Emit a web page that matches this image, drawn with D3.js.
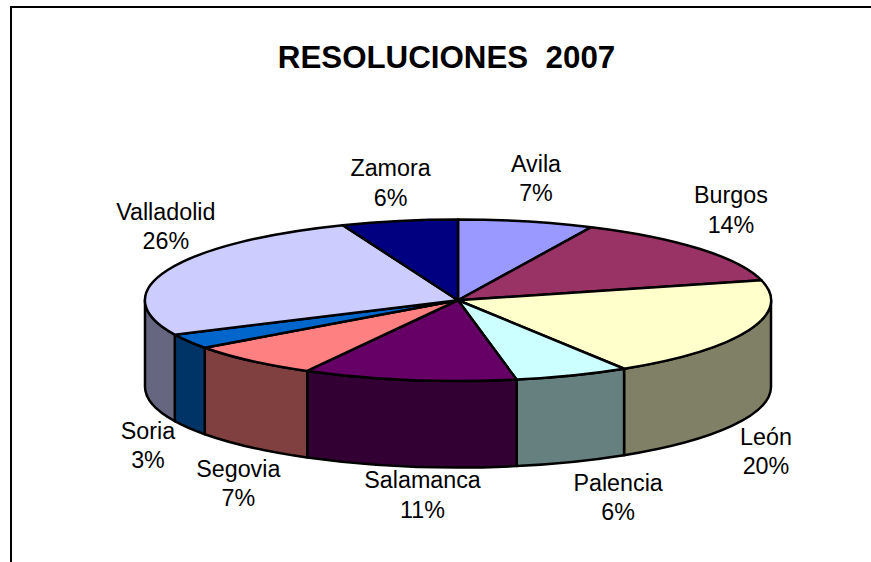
<!DOCTYPE html>
<html>
<head>
<meta charset="utf-8">
<script src="https://cdn.jsdelivr.net/npm/d3@7/dist/d3.min.js"></script>
<style>
  html, body { margin: 0; padding: 0; background: #fff; overflow: hidden; }
  text { font-family: "Liberation Sans", Arial, sans-serif; fill: #000; }
  .slice { stroke: #000; stroke-width: 2.5; stroke-linejoin: round; vector-effect: non-scaling-stroke; }
</style>
</head>
<body>
<div id="chart"></div>
<script>
const categories = ["Avila", "Burgos", "León", "Palencia", "Salamanca", "Segovia", "Soria", "Valladolid", "Zamora"];
const percents = [7, 14, 20.1, 5.9, 11, 7, 3, 26, 6];
const colors = ["#9999FF", "#993366", "#FFFFCC", "#CCFFFF", "#660066", "#FF8080", "#0066CC", "#CCCCFF", "#000080"];
const title = "RESOLUCIONES  2007";

// nudges of each label away from its slice, by hand
const labelNudge = [[9.7, -20.2], [31.8, -16.1], [17.3, 143.8], [45.8, 144.6], [13.5, 137.7], [-12.7, 145.2], [-40.6, 126.9], [-1.2, -21.2], [-8.8, -15.2]];

const width = 871, height = 562;
const depth = 86.5;

const svg = d3.select("#chart").append("svg")
  .attr("width", width)
  .attr("height", height)
  .style("display", "block");

// chart frame: only top and left edges fall inside the picture
svg.append("path")
  .attr("d", `M11,${height} V7 H${width}`)
  .attr("fill", "none")
  .attr("stroke", "#000")
  .attr("stroke-width", 2);

svg.append("text")
  .attr("x", 446.5)
  .attr("y", 68)
  .attr("text-anchor", "middle")
  .attr("font-size", 31.3)
  .attr("font-weight", "bold")
  .style("white-space", "pre")
  .text(title);

// unit circle -> flattened ellipse on the page
const x = d3.scaleLinear().domain([-1, 1]).range([145, 771]);
const y = d3.scaleLinear().domain([-1, 1]).range([219.5, 381]);
const rx = (x(1) - x(-1)) / 2, ry = (y(1) - y(-1)) / 2;

const pie = d3.pie().sort(null).value(d => d)(percents);

const px = a => x(Math.sin(a));
const py = a => y(-Math.cos(a));

// rim, only the front half of the disc shows
const rim = svg.append("g");
pie.forEach((d, i) => {
  const a0 = Math.max(d.startAngle, Math.PI / 2);
  const a1 = Math.min(d.endAngle, Math.PI * 1.5);
  if (a1 <= a0) return;
  const c = d3.rgb(colors[i]);
  rim.append("path")
    .attr("class", "slice")
    .attr("fill", d3.rgb(c.r / 2, c.g / 2, c.b / 2))
    .attr("d", `M${px(a0)},${py(a0)} A${rx},${ry} 0 0 1 ${px(a1)},${py(a1)}` +
      ` L${px(a1)},${py(a1) + depth} A${rx},${ry} 0 0 0 ${px(a0)},${py(a0) + depth} Z`);
});

// top face, unit arcs stretched to the ellipse
const arc = d3.arc().innerRadius(0).outerRadius(1);
svg.append("g")
  .attr("transform", `translate(${x(0)},${y(0)}) scale(${rx},${ry})`)
  .selectAll("path")
  .data(pie)
  .enter()
  .append("path")
  .attr("class", "slice")
  .attr("fill", (d, i) => colors[i])
  .attr("d", arc);

const label = svg.append("g")
  .selectAll("text")
  .data(pie)
  .enter()
  .append("text")
  .attr("text-anchor", "middle")
  .attr("font-size", 23.3)
  .attr("transform", (d, i) => {
    const mid = (d.startAngle + d.endAngle) / 2;
    return `translate(${px(mid) + labelNudge[i][0]},${py(mid) + labelNudge[i][1]})`;
  });

label.append("tspan").attr("x", 0).attr("y", -29.3).text((d, i) => categories[i]);
label.append("tspan").attr("x", 0).attr("y", 0).text((d, i) => Math.round(percents[i]) + "%");
</script>
</body>
</html>
